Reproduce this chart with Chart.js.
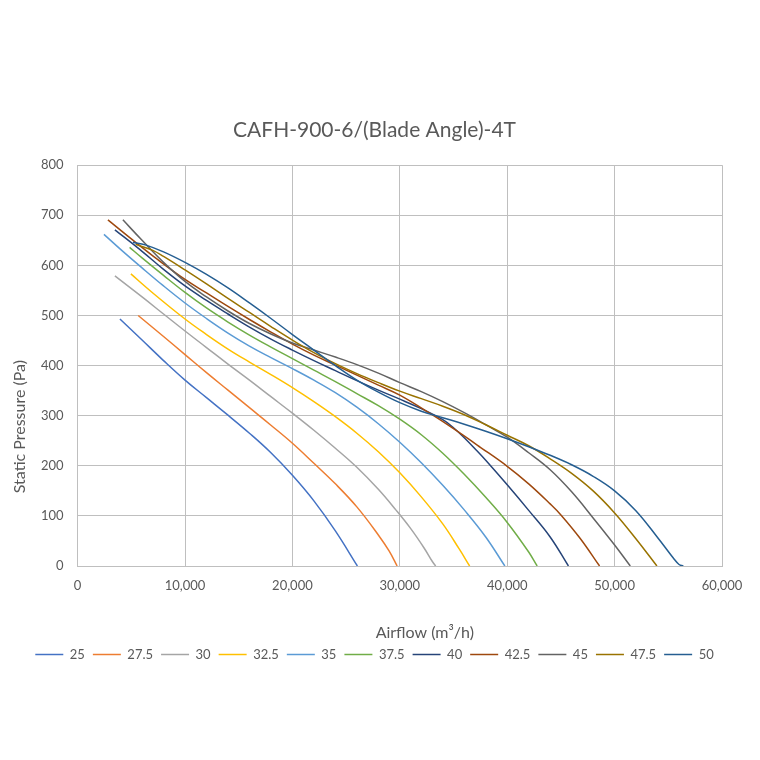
<!DOCTYPE html>
<html>
<head>
<meta charset="utf-8">
<script src="https://cdn.jsdelivr.net/npm/chart.js@4"></script>
<style>
  body { margin: 0; background: #fff; }
</style>
</head>
<body>
<canvas id="fanChart" width="760" height="760"></canvas>
<script>
// blade angles (legend labels) and their Excel-style colours
const angles = ['25', '27.5', '30', '32.5', '35', '37.5', '40', '42.5', '45', '47.5', '50'];
const colors = ['#4472C4', '#ED7D31', '#A5A5A5', '#FFC000', '#5B9BD5', '#70AD47',
                '#264478', '#9E480E', '#636363', '#997300', '#255E91'];

// airflow (m3/h) and static pressure (Pa)
const q25 = [3940, 6000, 8000, 10000, 12000, 14000, 16000, 18000, 20000, 22000, 24000, 26050];
const p25 = [493, 451, 410, 371, 336, 301, 265, 226, 181, 130, 70, 0];

const q275 = [5640, 8000, 10000, 12000, 14000, 16000, 18000, 20000, 22000, 24000, 26000, 28000, 29000, 29750];
const p275 = [500, 458, 422, 386, 351, 316, 281, 245, 205, 164, 118, 62, 30, 0];

const q30 = [3470, 6000, 8000, 10000, 12000, 14000, 16000, 18000, 20000, 22000, 24000, 26000, 28000, 29630, 31000, 32260, 33000, 33340];
const p30 = [579, 537, 503, 469, 436, 403, 371, 338, 305, 271, 235, 197, 153, 112, 75, 36, 10, 0];

const q325 = [4960, 7000, 10000, 12000, 14000, 16000, 18000, 20000, 22000, 24000, 26000, 28000, 30000, 32000, 34000, 35500, 36500];
const p325 = [583, 545, 493, 462, 433, 407, 382, 356, 328, 298, 265, 228, 186, 138, 84, 35, 0];

const q35 = [2450, 4000, 6000, 8000, 10000, 12000, 14000, 16000, 18000, 20000, 22000, 24000, 26000, 28000, 30000, 32000, 34000, 36000, 38000, 39780];
const p35 = [662, 632, 595, 559, 525, 494, 465, 439, 416, 394, 371, 346, 317, 284, 247, 206, 161, 112, 58, 0];

const q375 = [4840, 6000, 8000, 10000, 12000, 14000, 16000, 18000, 20000, 22000, 24000, 26000, 28000, 30000, 32000, 34000, 36000, 38000, 40000, 42000, 42790];
const p375 = [636, 615, 580, 546, 515, 487, 461, 437, 414, 391, 368, 344, 320, 293, 262, 225, 183, 137, 87, 28, 0];

const q40 = [3470, 6000, 8000, 10000, 12000, 14000, 16000, 18000, 20000, 22000, 24000, 26000, 28000, 30000, 32000, 34000, 35000, 36000, 37000, 38000, 40000, 42000, 44000, 45700];
const p40 = [671, 628, 592, 559, 530, 503, 477, 453, 431, 410, 390, 370, 351, 333, 314, 292, 276, 256, 234, 211, 162, 111, 58, 0];

const q425 = [2820, 5000, 7500, 10000, 12000, 14000, 16000, 18000, 20000, 22000, 24000, 26000, 28000, 30000, 33000, 35000, 37500, 40000, 42000, 44000, 45000, 46800, 48600];
const p425 = [691, 653, 611, 572, 545, 518, 492, 467, 443, 421, 401, 381, 361, 341, 302, 274, 237, 199, 164, 124, 102, 55, 0];

const q45 = [4215, 6000, 8000, 10000, 12000, 14000, 16000, 18000, 20000, 22000, 24000, 26000, 28000, 30000, 32000, 34000, 36000, 38000, 40000, 42000, 44000, 46000, 48000, 50000, 51460];
const p45 = [691, 650, 606, 568, 537, 509, 484, 463, 445, 431, 417, 402, 385, 366, 348, 328, 306, 282, 257, 226, 192, 148, 96, 42, 0];

const q475 = [5400, 7000, 8000, 10000, 12000, 14000, 16000, 18000, 20000, 22000, 24000, 26000, 28000, 30000, 32000, 34000, 36000, 38000, 40000, 42000, 44000, 46000, 48000, 50000, 52000, 53940];
const p475 = [642, 630, 618, 591, 563, 534, 506, 478, 451, 426, 404, 384, 366, 349, 334, 319, 302, 282, 261, 240, 214, 185, 150, 106, 54, 0];

const q50 = [5150, 6300, 8000, 10000, 12000, 14000, 16000, 18000, 20000, 22000, 24000, 26000, 28000, 30000, 32000, 34000, 36000, 38000, 40000, 42000, 44000, 46000, 48000, 50000, 52000, 54000, 55500, 56000, 56400];
const p50 = [646, 641, 627, 606, 582, 555, 525, 494, 462, 431, 400, 371, 347, 326, 309, 296, 283, 269, 254, 238, 221, 202, 179, 150, 110, 57, 15, 3, 0];

const flows = [q25, q275, q30, q325, q35, q375, q40, q425, q45, q475, q50];
const pressures = [p25, p275, p30, p325, p35, p375, p40, p425, p45, p475, p50];

const xTicks = [0, 10000, 20000, 30000, 40000, 50000, 60000];
const yTicks = [0, 100, 200, 300, 400, 500, 600, 700, 800];

const chartTitle = 'CAFH-900-6/(Blade Angle)-4T';
const xTitle = 'Airflow (m³/h)';
const yTitle = 'Static Pressure (Pa)';

const textColor = '#595959';
const gridColor = '#bfbfbf';
const fontFamily = 'Lato, "Open Sans", sans-serif';

let datasets = angles.map((label, i) => ({
    label: label,
    data: flows[i].map((x, k) => ({x: x, y: pressures[i][k]})),
    borderColor: colors[i],
    backgroundColor: colors[i],
    borderWidth: 1.5,
    showLine: true,
    fill: false,
    pointRadius: 0,
    pointHoverRadius: 0,
    tension: 0.4,
    order: -i // later series on top, like Excel
}));

// axis titles sit off-centre in the original, so draw them here
const axisTitles = {
    id: 'axisTitles',
    afterDraw(chart) {
        const {ctx, chartArea} = chart;
        ctx.save();
        ctx.fillStyle = textColor;
        ctx.font = '16px ' + fontFamily;
        ctx.textAlign = 'center';
        ctx.textBaseline = 'middle';
        ctx.fillText(xTitle, (chartArea.left + chartArea.right) / 2 + 25, chartArea.bottom + 67);
        ctx.translate(20, (chartArea.top + chartArea.bottom) / 2 + 61);
        ctx.rotate(-Math.PI / 2);
        ctx.fillText(yTitle, 0, 0);
        ctx.restore();
    }
};

let ctx = document.getElementById('fanChart').getContext('2d');
let chart = new Chart(ctx, {
    type: 'scatter',
    data: { datasets: datasets },
    plugins: [axisTitles],
    options: {
        responsive: false,
        animation: false,
        devicePixelRatio: 1,
        layout: { padding: { top: 0, left: 27, right: 38, bottom: 89 } },
        plugins: {
            title: {
                display: true,
                text: chartTitle,
                color: textColor,
                font: { family: fontFamily, size: 21, weight: 'normal' },
                padding: { top: 118, bottom: 22 }
            },
            legend: {
                position: 'bottom',
                labels: {
                    usePointStyle: true,
                    pointStyle: 'line',
                    pointStyleWidth: 28,
                    color: textColor,
                    font: { family: fontFamily, size: 13 },
                    padding: 8,
                    sort: (a, b) => a.datasetIndex - b.datasetIndex
                }
            },
            tooltip: { enabled: false }
        },
        scales: {
            x: {
                type: 'linear',
                min: xTicks[0],
                max: xTicks[xTicks.length - 1],
                afterBuildTicks: axis => { axis.ticks = xTicks.map(v => ({value: v})); },
                afterFit: axis => { axis.height = 74; },
                ticks: {
                    color: textColor,
                    padding: 12,
                    font: { family: fontFamily, size: 13 },
                    callback: v => v.toLocaleString('en-US')
                },
                grid: { color: gridColor, drawTicks: false },
                border: { color: gridColor }
            },
            y: {
                type: 'linear',
                min: yTicks[0],
                max: yTicks[yTicks.length - 1],
                afterBuildTicks: axis => { axis.ticks = yTicks.map(v => ({value: v})); },
                ticks: {
                    color: textColor,
                    padding: 14,
                    font: { family: fontFamily, size: 13 }
                },
                grid: { color: gridColor, drawTicks: false },
                border: { color: gridColor }
            }
        }
    }
});
</script>
</body>
</html>
